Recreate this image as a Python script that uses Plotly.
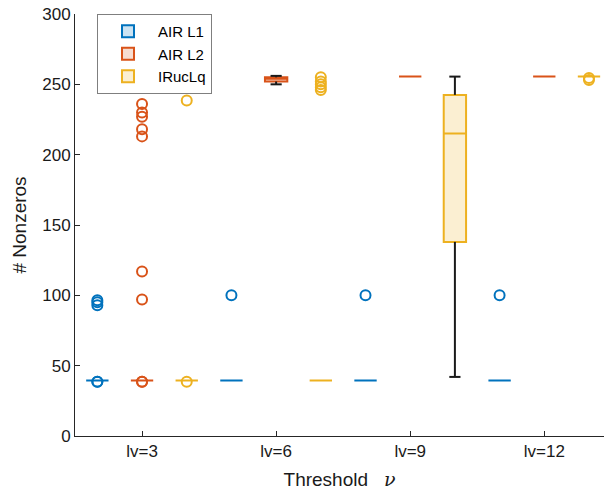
import plotly.graph_objects as go

categories = ["lv=3", "lv=6", "lv=9", "lv=12"]
series = ["AIR L1", "AIR L2", "IRucLq"]
colors = ["#0072BD", "#D95319", "#EDB120"]
fills = ["rgba(0,114,189,0.2)", "rgba(217,83,25,0.2)", "rgba(237,177,32,0.2)"]

# per series, per category (lv=3, lv=6, lv=9, lv=12)
q1 = [
    [39.5, 39.5, 39.5, 39.5],
    [39.5, 252, 255.5, 255.5],
    [39.5, 39.5, 138, 255.5],
]
median = [
    [39.5, 39.5, 39.5, 39.5],
    [39.5, 254, 255.5, 255.5],
    [39.5, 39.5, 215, 255.5],
]
q3 = [
    [39.5, 39.5, 39.5, 39.5],
    [39.5, 255, 255.5, 255.5],
    [39.5, 39.5, 242.5, 255.5],
]
whisker_low = [
    [39.5, 39.5, 39.5, 39.5],
    [39.5, 250, 255.5, 255.5],
    [39.5, 39.5, 42, 255.5],
]
whisker_high = [
    [39.5, 39.5, 39.5, 39.5],
    [39.5, 256, 255.5, 255.5],
    [39.5, 39.5, 255.5, 255.5],
]
outliers = [
    [[38.5, 38.5, 93, 95, 96.5], [100], [100], [100]],
    [[38.5, 38.5, 97, 117, 213, 218, 227, 230, 236], [], [], []],
    [[38.5, 238.5], [246, 248, 250, 252, 255], [], [253, 254.5]],
]

n_series = len(series)
BOX_W = 0.5
CAP = 0.125


def pos(i, j):
    return n_series * i + j + 1


fig = go.Figure()

for j, name in enumerate(series):
    xs = [pos(i, j) for i in range(len(categories))]
    fig.add_trace(go.Box(
        name=name, x=xs, q1=q1[j], median=median[j], q3=q3[j],
        lowerfence=q1[j], upperfence=q3[j],
        width=BOX_W, boxpoints=False,
        line=dict(color=colors[j], width=2),
        fillcolor=fills[j], whiskerwidth=0,
        showlegend=True, hoverinfo="skip",
    ))

for j, name in enumerate(series):
    wx, wy = [], []
    for i in range(len(categories)):
        p = pos(i, j)
        if whisker_low[j][i] < q1[j][i]:
            wx += [p, p, None, p - CAP, p + CAP, None]
            wy += [whisker_low[j][i], q1[j][i], None, whisker_low[j][i], whisker_low[j][i], None]
        if whisker_high[j][i] > q3[j][i]:
            wx += [p, p, None, p - CAP, p + CAP, None]
            wy += [q3[j][i], whisker_high[j][i], None, whisker_high[j][i], whisker_high[j][i], None]
    if wx:
        fig.add_trace(go.Scatter(x=wx, y=wy, mode="lines",
                                 line=dict(color="#1a1a1a", width=2),
                                 showlegend=False, hoverinfo="skip"))

for j, name in enumerate(series):
    ox, oy = [], []
    for i in range(len(categories)):
        for v in outliers[j][i]:
            ox.append(pos(i, j))
            oy.append(v)
    fig.add_trace(go.Scatter(x=ox, y=oy, mode="markers",
                             marker=dict(symbol="circle-open", size=10,
                                         color=colors[j], line=dict(width=2, color=colors[j])),
                             showlegend=False, hoverinfo="skip", cliponaxis=False))

tickvals = [pos(i, 1) for i in range(len(categories))]

fig.update_layout(
    width=604, height=493,
    margin=dict(l=75, r=0, t=14, b=57),
    paper_bgcolor="white", plot_bgcolor="white",
    boxmode="overlay",
    font=dict(family="Liberation Sans, Arial, sans-serif", color="#1a1a1a", size=17),
    xaxis=dict(
        range=[0.5, 12.336], tickvals=tickvals, ticktext=categories,
        ticks="inside", ticklen=5, tickcolor="#262626",
        showline=True, linecolor="#262626", linewidth=1,
        showgrid=False, zeroline=False,
        tickfont=dict(size=17),
        title=dict(text="Threshold\u00a0\u00a0\u00a0<span style=\"font-family:'DejaVu Serif'\"><i>ν</i></span>",
                   font=dict(size=19), standoff=12),
    ),
    yaxis=dict(
        range=[0, 300], dtick=50,
        ticks="inside", ticklen=5, tickcolor="#262626",
        showline=True, linecolor="#262626", linewidth=1,
        showgrid=False, zeroline=False,
        tickfont=dict(size=17),
        title=dict(text="# Nonzeros", font=dict(size=19), standoff=10),
    ),
    legend=dict(
        x=0.0416, y=1.0, xanchor="left", yanchor="top",
        bgcolor="white", bordercolor="#7f7f7f", borderwidth=1,
        font=dict(size=15, color="#000000"), tracegroupgap=0,
        itemwidth=50,
    ),
)

fig.write_html("out.html")
